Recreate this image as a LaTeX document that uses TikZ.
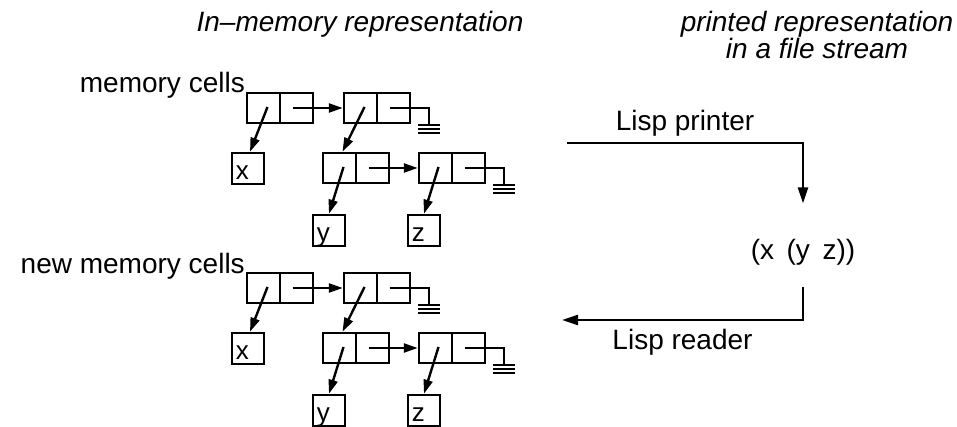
\documentclass[tikz,border=0pt]{standalone}
\usepackage{fontspec}
\setmainfont{Liberation Sans}
\usetikzlibrary{arrows.meta,calc}

% one cons cell: car half (#1a) and cdr half (#1d); #2 = left edge, #3 = centre y
\newcommand\conscell[3]{%
  \node[half] (#1a) at ({#2+16.5},{#3}) {};
  \node[half] (#1d) at ({#2+49.5},{#3}) {};}

% cdr holding nil: wire out of the cell and a ground symbol
\newcommand\nilend[1]{%
  \draw[wire] ($(#1d.center)+(-4,0)$) -| ($(#1d.east)+(18,17)$) coordinate (#1g);
  \draw[wire] ($(#1g)+(-11,0)$) -- ++(22,0)
              ($(#1g)+(-11,4)$) -- ++(22,0)
              ($(#1g)+(-11,8)$) -- ++(22,0);}

% the list (x (y z)) as linked cells; #1 = name prefix, #2 = vertical offset
\newcommand\lispcells[2]{%
  \conscell{#1one}{247}{108+#2}
  \conscell{#1two}{344}{108+#2}
  \conscell{#1three}{323}{168+#2}
  \conscell{#1four}{419}{168+#2}
  \node[atom=x] (#1x) at (248,{168.5+#2}) {};
  \node[atom=y] (#1y) at (329,{230.5+#2}) {};
  \node[atom=z] (#1z) at (424,{230.5+#2}) {};
  \draw[ptr] ($(#1onea.center)+(4,-1)$) -- ([xshift=2pt]#1x.north);
  \draw[ptr] ($(#1oned.center)+(-4,0)$) -- (#1twoa.west);
  \draw[ptr] ($(#1twoa.center)+(4,-1)$) -- ([xshift=3pt]#1threea.north);
  \nilend{#1two}
  \draw[ptr] ($(#1threea.center)+(4,-1)$) -- (#1y.north);
  \draw[ptr] ($(#1threed.center)+(-4,0)$) -- (#1foura.west);
  \draw[ptr] ($(#1foura.center)+(3,-1)$) -- (#1z.north);
  \nilend{#1four}}

\begin{document}
\begin{tikzpicture}[x=1pt,y=-1pt,
  font=\fontsize{28}{24}\selectfont,
  half/.style={draw, line width=2.5pt, minimum width=33pt, minimum height=30pt, inner sep=0pt},
  atom/.style={draw, line width=2.5pt, minimum width=32pt, minimum height=31pt, inner sep=0pt,
    label={[anchor=base west, inner sep=0pt, xshift=5pt, yshift=6pt,
            font=\fontsize{26}{26}\selectfont]south west:#1}},
  wire/.style={line width=2.4pt},
  ptr/.style={line width=2.4pt, -{Triangle[length=14pt,width=9pt]}},
  flow/.style={line width=2.4pt, -{Triangle[length=16pt,width=10pt]}},
  heading/.style={font=\fontsize{28}{24}\selectfont\itshape, align=center}]

\useasboundingbox (0,0) rectangle (957,427);

% headings
\node[heading] (hmem) at (360,24) {In–memory representation};
\node[heading] (hprint) at (817,35) {printed representation\\in a file stream};

% original cells and the cells read back in
\node[anchor=base east, inner sep=0pt] (lblold) at (245,93) {memory cells};
\lispcells{A}{0}
\node[anchor=base east, inner sep=0pt] (lblnew) at (245,273) {new memory cells};
\lispcells{B}{180}

% printing and reading
\node (list) at (803,252) {(x\hspace{0.45em}(y\hspace{0.45em}z))};
\coordinate (pout) at (567,143);
\coordinate (rin) at (562,320);
\draw[flow, shorten >=32pt] (pout) -| node[pos=0.25, above, yshift=2pt] {Lisp printer} (list.north);
\draw[flow, shorten <=18pt] (list.south) |- node[pos=0.75, below, yshift=-5pt] {Lisp reader} (rin);
\end{tikzpicture}
\end{document}
